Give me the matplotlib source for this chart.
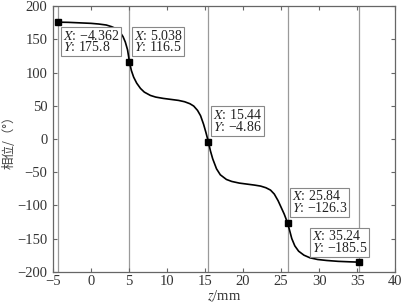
import matplotlib
matplotlib.use("Agg")
import matplotlib.pyplot as plt

plt.rcParams['font.family'] = ['Liberation Serif', 'Noto Sans CJK SC', 'DejaVu Sans']
plt.rcParams['mathtext.fontset'] = 'stix'

# curve
curve_x = [-4.362, -3, -2, -1, 0, 1, 2, 2.7, 3.3, 3.8, 4.2, 4.5, 4.8, 5.038, 5.3, 5.6, 6.0, 6.5, 7.0, 7.8,
           8.5, 9.5, 10.5, 11.5, 12.3, 13.0, 13.5, 14.0, 14.4, 14.8, 15.1, 15.44, 15.7, 16.0, 16.5, 17.0,
           17.8, 18.5, 19.5, 20.5, 21.5, 22.3, 23.0, 23.6, 24.1, 24.6, 25.0, 25.4, 25.84, 26.1, 26.4, 26.8,
           27.3, 28.0, 28.8, 29.8, 31, 32.5, 34, 35.24]
curve_y = [175.8, 175.5, 175, 174.5, 174, 173, 171.5, 169, 166, 161, 154, 146, 134, 116.5, 103, 93, 84, 76,
           70.5, 65.5, 63, 61, 59.5, 58, 56, 53, 49.5, 43, 35, 22, 10, -4.86, -18, -30, -45, -54,
           -61, -64, -66.5, -68, -69.5, -71, -73.5, -77, -83, -93, -103, -113, -126.3, -137, -150, -161,
           -169, -175, -179, -181.5, -183, -184.3, -185, -185.5]

# marked data tips
tip_x = [-4.362, 5.038, 15.44, 25.84, 35.24]
tip_y = [175.8, 116.5, -4.86, -126.3, -185.5]
tip_xlabels = ['\u22124.362', '5.038', '15.44', '25.84', '35.24']
tip_ylabels = ['175.8', '116.5', '\u22124.86', '\u2212126.3', '\u2212185.5']
# box anchor (upper-left) in data coords
box_x = [-3.75, 5.6, 16.0, 26.4, 29.05]
box_y = [166.0, 166.0, 46.5, -76.0, -136.0]

fig = plt.figure(figsize=(4.02, 3.04), dpi=100)
ax = fig.add_axes([0.132, 0.106, 0.851, 0.874])

for xv in tip_x:
    ax.axvline(xv, color='#9a9a9a', lw=0.9, zorder=1)

ax.plot(curve_x, curve_y, color='black', lw=1.2, zorder=3)
ax.plot(tip_x, tip_y, 's', color='black', ms=5, zorder=4)

for bx, by, xl, yl in zip(box_x, box_y, tip_xlabels, tip_ylabels):
    ax.text(bx, by, r'$X$: ' + xl + '\n' + r'$Y$: ' + yl, fontsize=10, va='top', ha='left',
            linespacing=0.8, color='#222222', zorder=5,
            bbox=dict(boxstyle='square,pad=0.12', fc='white', ec='#888888', lw=0.8))

ax.set_xlim(-5, 40)
ax.set_ylim(-200, 200)
ax.set_xticks(range(-5, 41, 5))
ax.set_yticks(range(-200, 201, 50))
ax.set_xticklabels([str(v).replace('-', '\u2212') for v in range(-5, 41, 5)])
ax.set_yticklabels([str(v).replace('-', '\u2212') for v in range(-200, 201, 50)])
ax.tick_params(direction='in', top=True, right=True, length=3, width=0.8, color='#666666',
               labelsize=10.5, labelcolor='#333333')
ax.tick_params(axis='x', pad=2.5)
ax.tick_params(axis='y', pad=4)
for s in ax.spines.values():
    s.set_color('#666666')
    s.set_linewidth(0.9)

ax.set_xlabel(r'$z$/mm', fontsize=10.5, color='#333333', labelpad=0)
ax.set_ylabel('相位/（°）', fontsize=9, color='#444444', labelpad=1,
              family=['Noto Sans CJK SC', 'DejaVu Sans'])

fig.savefig('out.png', dpi=100)
